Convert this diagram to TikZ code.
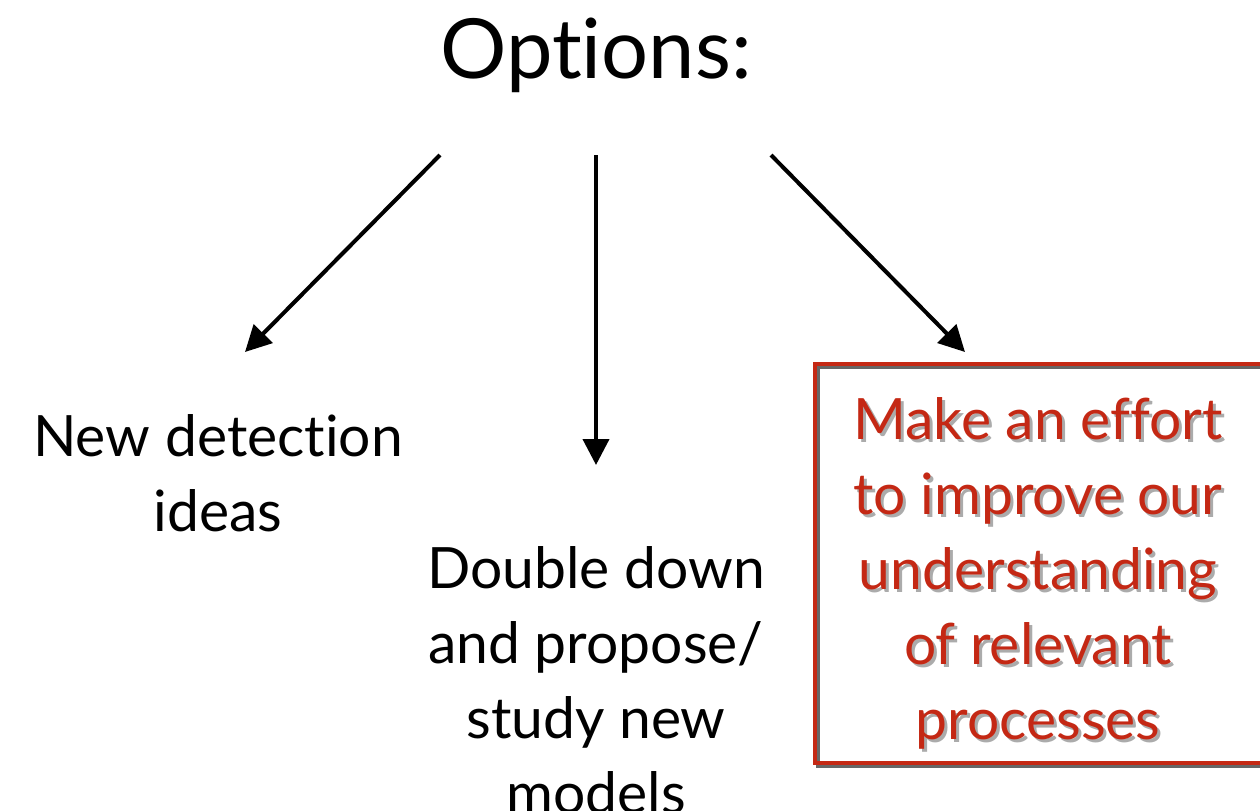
\documentclass[tikz,border=0pt]{standalone}
\usepackage{fontspec}
\setmainfont{Lato}[Ligatures={NoCommon}]
\usetikzlibrary{arrows.meta,backgrounds}
\definecolor{effortred}{RGB}{196,40,20}

\begin{document}
\begin{tikzpicture}[x=0.5pt, y=0.5pt,
  every node/.style={font=\fontsize{28.5}{37.5}\selectfont, align=center, inner sep=0pt},
  ttl/.style={font=\fontsize{41.5}{48}\selectfont},
  ar/.style={-{Triangle[length=13pt,width=13pt]}, line width=2pt},
  hlbox/.style={draw=effortred, line width=2.4pt, minimum width=232.5pt, minimum height=199.5pt,
                preaction={draw=black!60, line width=2.4pt, transform canvas={shift={(1.5pt,-1.5pt)}}}},
  hl/.style={text=effortred},
  hlshade/.style={text=black!55, opacity=0.6}]

\useasboundingbox (0,0) rectangle (1260,-810);
\clip (0,0) rectangle (1260,-810);

%% --- title and options ---
\node[ttl] (opt)  at (596, -55)   {Options:};
\node      (det)  at (218, -473)  {New detection\\ideas};
\node      (dbl)  at (596, -680)  {Double down\\and propose/\\study new\\models};

%% --- highlighted option ---
\node[hlbox]  (effortbox) at (1047.5, -563.5) {};
\node[hlshade] (effortshade) at (1041, -576) {Make an effort\\to improve our\\understanding\\of relevant\\processes};
\node[hl]     (effort)    at (1038, -573) {Make an effort\\to improve our\\understanding\\of relevant\\processes};

%% --- arrows ---
\coordinate (s1) at (440, -155);
\coordinate (s2) at (596, -155);
\coordinate (s3) at (771, -155);
\coordinate (e1) at (245, -352);
\coordinate (e2) at (596, -465);
\coordinate (e3) at (965, -352);
\draw[ar] (s1) -- (e1);
\draw[ar] (s2) -- (e2);
\draw[ar] (s3) -- (e3);
\end{tikzpicture}
\end{document}
